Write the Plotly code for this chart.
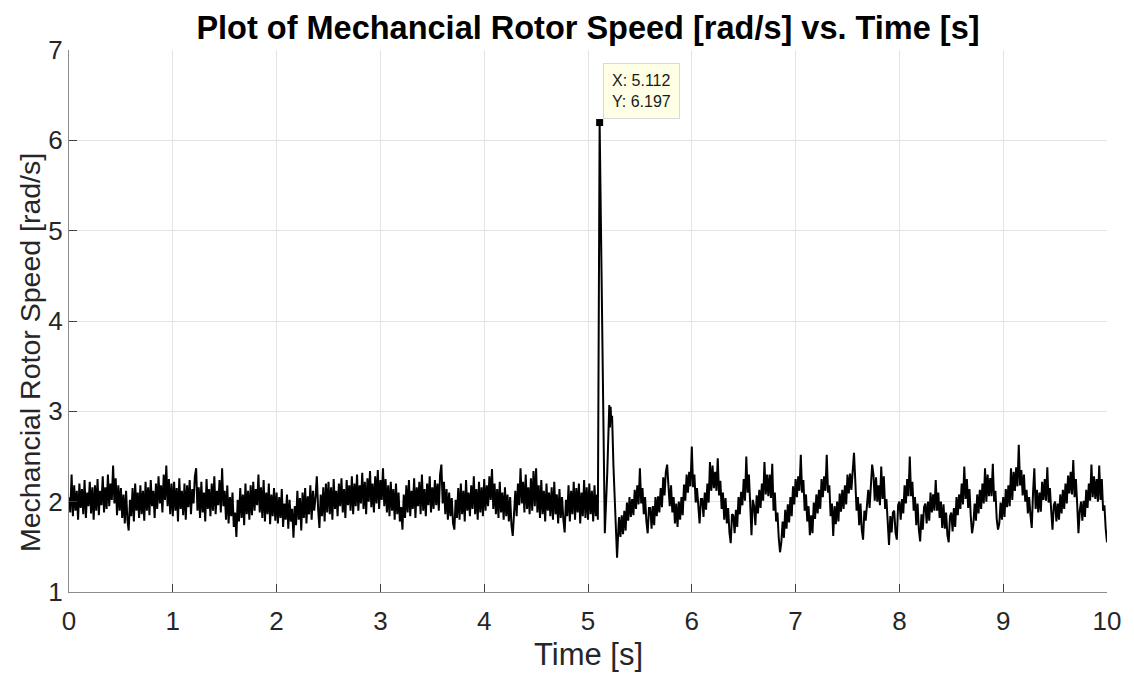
import numpy as np
import plotly.graph_objects as go

# ---- data ----
# sampled part before the spike (0 .. 5.0875 s, 12.5 ms step), one row = 0.25 s
v_pre = [
    2.05, 1.88, 2.30, 1.84, 2.18, 1.90, 2.12, 1.80, 2.20, 1.93, 2.14, 1.86, 2.24, 1.82, 2.10, 1.95, 2.22, 1.87, 2.16, 1.80,
    2.18, 1.90, 2.25, 1.85, 2.12, 1.96, 2.28, 1.88, 2.16, 1.92, 2.30, 1.95, 2.20, 2.02, 2.40, 1.98, 2.26, 1.85, 2.18, 1.90,
    2.15, 1.82, 2.08, 1.76, 2.12, 1.80, 1.68, 2.02, 1.84, 2.15, 1.78, 2.20, 1.90, 2.10, 1.82, 2.18, 1.86, 2.12, 1.79, 2.22,
    1.90, 2.16, 1.85, 2.24, 1.95, 2.12, 1.82, 2.20, 1.92, 2.28, 1.98, 2.18, 1.88, 2.30, 2.02, 2.40, 1.95, 2.25, 1.86, 2.20,
    1.84, 2.22, 1.90, 2.15, 1.78, 2.26, 1.92, 2.12, 1.85, 2.20, 1.80, 2.18, 1.94, 2.24, 1.86, 2.14, 1.98, 2.28, 2.37, 1.90,
    2.16, 1.82, 2.22, 1.88, 2.10, 1.78, 2.25, 1.92, 2.14, 1.84, 2.20, 1.90, 2.28, 1.86, 2.12, 1.96, 2.24, 1.88, 2.37, 1.95,
    2.12, 1.80, 2.18, 1.76, 2.05, 1.84, 2.10, 1.72, 1.88, 1.61, 2.02, 1.78, 2.15, 1.82, 2.08, 1.74, 2.20, 1.86, 2.12, 1.80,
    2.18, 1.85, 2.22, 1.90, 2.14, 1.96, 2.30, 1.88, 2.16, 1.82, 2.24, 1.78, 2.10, 1.86, 2.20, 1.75, 2.08, 1.84, 2.15, 1.79,
    2.10, 1.76, 2.05, 1.82, 2.14, 1.72, 1.98, 1.80, 2.08, 1.70, 2.02, 1.78, 1.92, 1.60, 1.95, 1.74, 2.12, 1.80, 2.04, 1.68,
    2.10, 1.82, 2.15, 1.76, 2.06, 1.86, 2.18, 1.80, 2.12, 1.90, 2.05, 2.28, 1.92, 1.71, 2.08, 1.84, 2.16, 1.78, 2.20, 1.88,
    2.22, 1.86, 2.16, 1.80, 2.25, 1.92, 2.12, 1.84, 2.20, 1.95, 2.26, 1.88, 2.14, 1.82, 2.24, 1.96, 2.18, 1.90, 2.28, 1.86,
    2.20, 1.95, 2.30, 1.90, 2.18, 1.98, 2.32, 1.92, 2.22, 1.86, 2.26, 2.00, 2.34, 1.94, 2.20, 1.88, 2.28, 1.98, 2.35, 1.92,
    2.24, 2.02, 2.37, 1.95, 2.25, 1.88, 2.18, 1.84, 2.22, 1.90, 2.14, 1.80, 2.20, 1.86, 2.10, 1.78, 1.94, 1.69, 2.08, 1.82,
    2.18, 1.88, 2.24, 1.84, 2.12, 1.92, 2.26, 1.82, 2.16, 1.95, 2.22, 1.86, 2.30, 1.90, 2.14, 1.84, 2.20, 1.96, 2.28, 1.88,
    2.16, 1.92, 2.24, 1.96, 2.20, 1.90, 2.30, 2.41, 1.98, 2.22, 1.86, 2.14, 1.80, 2.10, 1.84, 2.04, 1.76, 1.69, 2.02, 1.82,
    2.15, 1.80, 2.20, 1.86, 2.12, 1.78, 2.24, 1.90, 2.10, 1.84, 2.18, 1.92, 2.28, 1.86, 2.14, 1.80, 2.22, 1.88, 2.16, 1.84,
    2.25, 1.90, 2.18, 1.95, 2.28, 2.02, 2.36, 1.92, 2.20, 1.86, 2.14, 1.82, 2.22, 1.88, 2.10, 1.80, 2.16, 1.84, 2.08, 1.78,
    2.05, 1.74, 1.62, 1.92, 2.12, 1.84, 2.20, 1.96, 2.37, 1.98, 2.22, 1.88, 2.30, 1.92, 2.16, 1.86, 2.26, 1.90, 2.34, 1.95,
    2.37, 1.88, 2.18, 1.82, 2.24, 1.86, 2.12, 1.78, 2.20, 1.90, 2.10, 1.84, 2.16, 1.80, 2.22, 1.86, 2.08, 1.76, 2.14, 1.82,
    2.05, 1.80, 1.66, 2.02, 1.84, 2.18, 1.78, 2.12, 1.86, 2.22, 1.80, 2.15, 1.88, 2.20, 1.76, 2.10, 1.84, 2.24, 1.82, 2.16,
    1.80, 2.20, 1.86, 2.12, 1.78, 2.18, 1.84, 2.08,
]
t_pre_start, t_step = 0.0, 0.0125

# transient around the spike
t_spike = [5.095, 5.112, 5.162, 5.185, 5.205, 5.212, 5.218, 5.224, 5.232, 5.245, 5.262, 5.280, 5.295]
v_spike = [1.80, 6.197, 1.65, 2.30, 3.07, 2.82, 3.05, 2.88, 2.95, 2.40, 1.80, 1.38, 1.75]

# sampled part after the spike (5.3 .. 10 s, 12.5 ms step), one row = 0.25 s
v_post = [
    1.83, 1.61, 1.85, 1.64, 1.90, 1.68, 1.99, 1.79, 2.05, 1.83, 2.03, 1.85, 2.13, 1.92, 2.18, 1.97, 2.37, 1.98, 2.15, 1.86,
    2.05, 1.78, 1.65, 1.93, 1.93, 1.70, 1.95, 1.74, 2.05, 1.84, 2.06, 1.88, 2.15, 1.94, 2.27, 2.07, 2.33, 2.41, 2.23, 1.95,
    2.18, 1.88, 2.05, 1.76, 1.98, 1.72, 2.00, 1.80, 2.05, 1.85, 2.19, 2.01, 2.30, 2.10, 2.33, 2.17, 2.61, 2.16, 2.30, 1.99,
    2.15, 1.89, 1.76, 2.03, 2.03, 1.83, 2.10, 1.91, 2.20, 1.99, 2.44, 2.12, 2.40, 2.15, 2.33, 2.12, 2.48, 2.07, 2.23, 1.92,
    2.10, 1.80, 2.04, 1.76, 1.93, 1.66, 1.54, 1.86, 1.85, 1.65, 1.91, 1.72, 2.05, 1.86, 2.11, 1.96, 2.25, 2.01, 2.50, 2.10,
    2.30, 1.98, 1.63, 2.02, 1.95, 1.74, 2.07, 1.87, 2.13, 1.93, 2.20, 2.01, 2.44, 2.08, 2.30, 2.06, 2.30, 2.04, 2.42, 1.90,
    2.10, 1.78, 1.88, 1.60, 1.44, 1.55, 1.78, 1.60, 1.91, 1.70, 1.97, 1.77, 2.05, 1.84, 2.17, 1.97, 2.25, 2.05, 2.28, 2.12,
    2.52, 2.10, 2.24, 1.90, 2.08, 1.78, 1.95, 1.63, 1.85, 1.65, 1.99, 1.81, 2.08, 1.87, 2.13, 1.92, 2.25, 2.05, 2.28, 2.12,
    2.52, 2.10, 2.18, 1.84, 1.98, 1.62, 1.95, 1.75, 2.00, 1.78, 2.09, 1.89, 2.13, 1.92, 2.18, 1.97, 2.30, 2.09, 2.31, 2.13,
    2.38, 2.54, 2.23, 1.90, 2.05, 1.74, 1.98, 1.69, 1.58, 1.90, 1.79, 2.02, 2.13, 1.93, 2.20, 2.41, 2.30, 2.01, 2.27, 2.00,
    2.18, 1.96, 2.39, 2.03, 2.28, 1.92, 2.03, 1.69, 1.52, 1.84, 1.66, 1.88, 1.90, 1.66, 1.58, 1.96, 2.00, 1.80, 2.03, 1.87,
    2.18, 1.98, 2.25, 2.06, 2.50, 2.06, 2.22, 1.90, 2.05, 1.74, 1.98, 1.69, 1.56, 1.86, 1.69, 1.94, 1.98, 1.76, 2.00, 1.79,
    2.10, 1.88, 2.08, 1.90, 2.24, 1.90, 2.10, 1.82, 2.00, 1.71, 1.97, 1.70, 1.88, 1.63, 1.55, 1.84, 1.88, 1.67, 1.93, 1.72,
    2.05, 1.85, 2.08, 1.92, 2.20, 1.97, 2.39, 2.03, 2.25, 1.93, 2.14, 1.84, 1.65, 1.75, 1.98, 1.79, 2.08, 1.87, 2.13, 1.92,
    2.20, 1.98, 2.37, 2.00, 2.30, 2.06, 2.26, 2.06, 2.42, 2.00, 2.12, 1.81, 1.69, 1.76, 1.99, 1.80, 2.05, 1.83, 2.14, 1.94,
    2.18, 1.95, 2.37, 2.02, 2.33, 2.12, 2.38, 2.17, 2.63, 2.18, 2.35, 2.07, 2.30, 2.00, 2.13, 1.87, 2.05, 1.85, 1.71, 2.10,
    2.37, 1.92, 2.13, 1.88, 2.10, 1.89, 2.22, 2.02, 2.25, 2.01, 2.38, 1.99, 2.15, 1.90, 1.69, 1.96, 2.00, 1.78, 1.98, 1.80,
    2.08, 1.87, 2.13, 1.92, 2.20, 1.98, 2.29, 2.09, 2.33, 2.08, 2.46, 2.05, 2.25, 1.98, 1.65, 1.90, 2.00, 1.79, 2.01, 1.83,
    2.13, 1.93, 2.20, 2.01, 2.41, 2.05, 2.28, 2.03, 2.25, 2.00, 2.40, 2.02, 2.25, 1.90, 1.96, 1.70, 1.55,
]
t_post_start = 5.3

t_pre = np.round(t_pre_start + t_step * np.arange(len(v_pre)), 4)
t_post = np.round(t_post_start + t_step * np.arange(len(v_post)), 4)

time = list(t_pre) + t_spike + list(t_post)
speed = v_pre + v_spike + v_post

tip_x, tip_y = 5.112, 6.197

x_ticks = [0, 1, 2, 3, 4, 5, 6, 7, 8, 9, 10]
y_ticks = [1, 2, 3, 4, 5, 6, 7]

FONT = "Liberation Sans, Arial, Helvetica, sans-serif"
TXT = "#262626"

fig = go.Figure()
fig.add_trace(go.Scatter(x=time, y=speed, mode="lines",
                         line=dict(color="black", width=2.0), hoverinfo="skip"))
fig.add_trace(go.Scatter(x=[tip_x], y=[tip_y], mode="markers",
                         marker=dict(symbol="square", size=7, color="black"), hoverinfo="skip"))

fig.add_annotation(x=tip_x, y=tip_y, xref="x", yref="y",
                   text=f"X: {tip_x}<br>Y: {tip_y}", showarrow=False,
                   xanchor="left", yanchor="bottom", xshift=3, yshift=4,
                   align="left", font=dict(family=FONT, size=16, color="#1a1a1a"),
                   bgcolor="#FFFFE6", bordercolor="#d9d9d9", borderwidth=1, borderpad=8)

# axis titles (placed as in the reference)
fig.add_annotation(text="Time [s]", xref="paper", yref="paper", x=0.5, y=(592 - 654) / 542,
                   xanchor="center", yanchor="middle", showarrow=False,
                   font=dict(family=FONT, size=31, color=TXT))
fig.add_annotation(text="Mechancial Rotor Speed [rad/s]", xref="paper", yref="paper",
                   x=(30 - 69) / 1038, y=(592 - 353) / 542, textangle=-90,
                   xanchor="center", yanchor="middle", showarrow=False,
                   font=dict(family=FONT, size=28.5, color=TXT))

fig.update_layout(
    width=1134, height=679,
    margin=dict(l=69, r=27, t=50, b=87),
    paper_bgcolor="white", plot_bgcolor="white",
    showlegend=False,
    font=dict(family=FONT, color=TXT),
    title=dict(text="<b>Plot of Mechancial Rotor Speed [rad/s] vs. Time [s]</b>",
               x=0.5, xref="paper", xanchor="center",
               y=1 - 28 / 679, yref="container", yanchor="middle",
               font=dict(family=FONT, size=32.5, color="black")),
)
fig.update_xaxes(range=[0, 10], tickvals=x_ticks, ticktext=[str(v) for v in x_ticks],
                 showgrid=True, gridcolor="#e3e3e3", gridwidth=1,
                 showline=True, linecolor="#8c8c8c", linewidth=1, mirror=False,
                 ticks="inside", ticklen=8, tickcolor="#404040",
                 ticklabelstandoff=6,
                 zeroline=False, tickfont=dict(size=26, color=TXT))
fig.update_yaxes(range=[1, 7], tickvals=y_ticks, ticktext=[str(v) for v in y_ticks],
                 showgrid=True, gridcolor="#e3e3e3", gridwidth=1,
                 showline=True, linecolor="#8c8c8c", linewidth=1, mirror=False,
                 ticks="inside", ticklen=8, tickcolor="#404040",
                 zeroline=False, tickfont=dict(size=26, color=TXT))

fig.write_html("out.html")
